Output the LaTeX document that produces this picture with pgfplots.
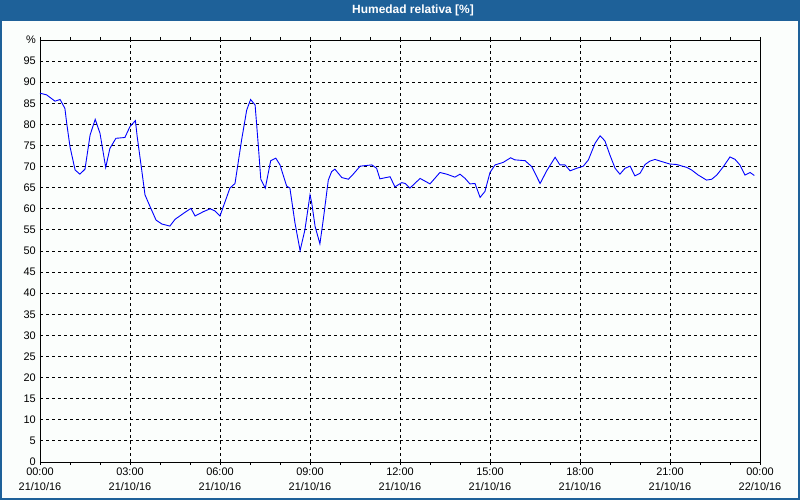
\documentclass[border=0pt]{standalone}
\usepackage{fontspec}
\setmainfont{Liberation Sans}
\usepackage{pgfplots}
\pgfplotsset{compat=1.18}
\definecolor{barblue}{RGB}{30,97,153}
\definecolor{bgwhite}{RGB}{251,254,252}
\definecolor{lineblue}{RGB}{0,0,255}

\begin{document}
\begin{tikzpicture}
\useasboundingbox (-40bp,-38bp) rectangle (760bp,462bp);
\fill[bgwhite] (-40bp,-38bp) rectangle (760bp,462bp);
\fill[barblue] (-40bp,441bp) rectangle (760bp,462bp);
\draw[barblue, line width=2bp] (-39bp,-37bp) rectangle (759bp,461bp);
\node[text=white, font=\fontsize{12}{14}\selectfont\bfseries] at (373bp,451.5bp) {Humedad relativa [\%]};
\begin{axis}[
  scale only axis,
  width=720bp, height=422bp,
  xmin=0, xmax=24, ymin=0, ymax=100,
  axis line style={black, line width=0.8bp},
  xtick={0,3,...,24},
  xticklabels={{00:00\\21/10/16},{03:00\\21/10/16},{06:00\\21/10/16},{09:00\\21/10/16},{12:00\\21/10/16},{15:00\\21/10/16},{18:00\\21/10/16},{21:00\\21/10/16},{00:00\\22/10/16}},
  minor xtick={1,2,4,5,7,8,10,11,13,14,16,17,19,20,22,23},
  xtick align=outside,
  major tick length=3bp, minor tick length=3bp,
  xtick style={black, line width=0.8bp},
  ytick={0,5,...,100},
  yticklabels={0,5,10,15,20,25,30,35,40,45,50,55,60,65,70,75,80,85,90,95,\%},
  ytick style={draw=none},
  xmajorgrids, ymajorgrids,
  major grid style={black, line width=0.8bp, dash pattern=on 3bp off 3bp},
  tick label style={font=\fontsize{11}{15}\selectfont},
  xticklabel style={align=center, inner ysep=3bp},
  yticklabel style={inner xsep=4bp},
  /pgf/number format/assume math mode=true,
]
\addplot[lineblue, line width=0.9bp] coordinates {
(0,87.4) (0.22,87.0) (0.5,85.5) (0.67,85.9) (0.83,83.8) (0.89,80.3)
(1.0,74.7) (1.17,69.2) (1.33,68.2) (1.5,69.4) (1.67,77.5) (1.84,81.2)
(2.0,77.9) (2.19,69.8) (2.33,74.3) (2.53,76.7) (2.83,76.9) (3.0,79.5)
(3.18,80.9) (3.24,77.1) (3.39,69.2) (3.5,63.3) (3.67,60.5) (3.87,57.3)
(4.06,56.4) (4.33,55.9) (4.5,57.5) (4.78,58.9) (5.03,60.1) (5.17,58.3)
(5.44,59.3) (5.67,60.0) (5.83,59.5) (6.0,58.3) (6.11,60.5) (6.33,64.9)
(6.5,66.0) (6.72,76.3) (6.89,83.4) (7.02,85.9) (7.17,84.6) (7.28,74.7)
(7.36,67.0) (7.51,64.9) (7.69,71.4) (7.86,72.0) (8.0,70.4) (8.22,65.4)
(8.33,64.9) (8.5,56.6) (8.67,50.1) (8.83,55.0) (9.0,63.3) (9.06,61.3)
(9.17,55.8) (9.33,51.7) (9.44,57.3) (9.61,66.8) (9.72,68.8) (9.83,69.4)
(10.06,67.4) (10.28,67.0) (10.44,68.2) (10.67,70.1) (11.06,70.4) (11.22,69.6)
(11.33,67.1) (11.67,67.6) (11.83,65.2) (12.06,66.2) (12.17,66.0) (12.33,64.9)
(12.67,67.2) (13.0,65.9) (13.33,68.6) (13.56,68.2) (13.83,67.5) (14.0,68.2)
(14.17,67.2) (14.33,65.9) (14.5,66.0) (14.67,62.7) (14.83,64.1) (15.0,68.6)
(15.17,70.4) (15.44,71.0) (15.69,72.1) (15.83,71.6) (16.17,71.4) (16.39,70.0)
(16.67,66.0) (16.89,69.0) (17.17,72.2) (17.33,70.4) (17.5,70.4) (17.67,69.0)
(17.89,69.6) (18.11,70.1) (18.28,71.6) (18.5,75.5) (18.67,77.3) (18.83,76.1)
(19.0,72.7) (19.17,69.6) (19.33,68.2) (19.5,69.6) (19.67,70.1) (19.83,67.8)
(20.0,68.4) (20.17,70.5) (20.33,71.3) (20.5,71.7) (20.72,71.2) (21.0,70.6)
(21.22,70.5) (21.56,69.8) (21.72,69.2) (21.94,68.0) (22.22,66.8) (22.39,67.0)
(22.56,68.0) (22.78,70.0) (23.0,72.3) (23.17,71.7) (23.33,70.4) (23.5,68.0)
(23.67,68.6) (23.81,67.9)
};
\end{axis}
\end{tikzpicture}
\end{document}
